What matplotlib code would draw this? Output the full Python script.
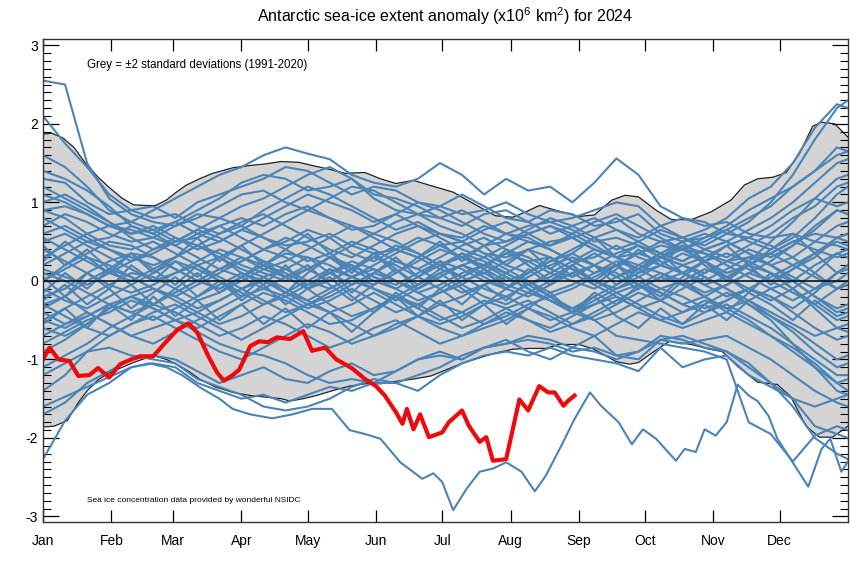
import numpy as np
import matplotlib.pyplot as plt
from matplotlib.ticker import MultipleLocator

plt.rcParams['font.family'] = ['Liberation Sans', 'DejaVu Sans']
plt.rcParams['axes.unicode_minus'] = False

# x axis: day of year
month_starts = [0, 31, 59, 90, 120, 151, 181, 212, 243, 273, 304, 334]
month_names = ['Jan', 'Feb', 'Mar', 'Apr', 'May', 'Jun',
               'Jul', 'Aug', 'Sep', 'Oct', 'Nov', 'Dec']

# days at which the past years are sampled (every 10 days + year end)
days = list(range(0, 361, 10)) + [365]

# grey band (+/- 2 std, 1991-2020)
upper_days = [0, 4, 9, 14, 19, 25, 30, 36, 41, 46, 51, 56, 60, 65, 71, 77, 86, 94,
              101, 108, 116, 122, 130, 137, 146, 153, 160, 168, 175, 186, 198, 205,
              213, 219, 225, 235, 243, 250, 258, 264, 270, 278, 285, 294, 303, 312,
              318, 324, 331, 337, 343, 349, 353, 359, 365]
upper = [1.87, 1.88, 1.82, 1.70, 1.51, 1.32, 1.19, 1.05, 0.97, 0.96, 0.96, 1.03,
         1.12, 1.22, 1.30, 1.37, 1.44, 1.47, 1.49, 1.52, 1.51, 1.47, 1.42, 1.37,
         1.38, 1.30, 1.24, 1.28, 1.22, 1.13, 0.94, 0.83, 0.81, 0.88, 0.96, 0.88,
         0.82, 0.84, 1.03, 1.09, 1.07, 0.90, 0.78, 0.78, 0.88, 1.03, 1.22, 1.30,
         1.32, 1.38, 1.62, 1.97, 2.02, 2.00, 1.83]
lower_days = [0, 5, 11, 16, 20, 25, 30, 36, 41, 46, 51, 56, 61, 66, 71, 78, 86, 94,
              101, 108, 112, 118, 124, 131, 139, 146, 153, 160, 168, 176, 183, 190,
              198, 205, 213, 220, 228, 234, 243, 249, 255, 260, 266, 270, 276, 284,
              294, 302, 308, 315, 324, 333, 339, 346, 352, 358, 365]
lower = [-1.86, -1.85, -1.78, -1.55, -1.40, -1.26, -1.17, -1.10, -1.04, -0.99,
         -0.96, -1.00, -1.07, -1.15, -1.25, -1.35, -1.42, -1.46, -1.48, -1.50,
         -1.53, -1.50, -1.46, -1.40, -1.34, -1.31, -1.31, -1.28, -1.25, -1.21,
         -1.13, -1.05, -0.98, -0.92, -0.87, -0.86, -0.86, -0.81, -0.81, -0.86,
         -0.95, -1.03, -1.06, -1.04, -0.92, -0.77, -0.81, -0.87, -0.90, -1.09,
         -1.29, -1.32, -1.47, -1.85, -1.99, -1.99, -1.85]

# past years (blue lines), sampled at `days`
past_years = [
    [0.9, 0.95, 0.85, 0.7, 0.75, 0.9, 1.05, 1.2, 1.35, 1.45,
     1.6, 1.7, 1.62, 1.55, 1.35, 1.25, 1.2, 1.3, 1.5, 1.35,
     1.1, 1.3, 1.15, 1.2, 1.0, 1.25, 1.56, 1.35, 0.95, 0.8,
     0.7, 0.75, 0.6, 0.55, 0.6, 0.5, 0.45, 0.4],
    [2.1, 1.75, 1.45, 1.1, 0.9, 0.8, 0.85, 0.7, 0.6, 0.7,
     0.55, 0.45, 0.5, 0.6, 0.45, 0.35, 0.4, 0.3, 0.45, 0.5,
     0.35, 0.3, 0.4, 0.5, 0.55, 0.4, 0.3, 0.35, 0.45, 0.4,
     0.55, 0.65, 0.8, 0.95, 1.2, 1.4, 1.6, 1.65],
    [2.55, 2.5, 1.5, 1.05, 0.85, 0.75, 0.7, 0.8, 0.95, 1.1,
     1.15, 1.0, 0.9, 1.05, 1.2, 1.15, 1.0, 0.85, 0.8, 0.9,
     0.75, 0.6, 0.7, 0.75, 0.65, 0.5, 0.55, 0.45, 0.3, 0.4,
     0.35, 0.25, 0.3, 0.35, 0.5, 0.6, 0.55, 0.6],
    [1.6, 1.45, 1.2, 0.9, 0.75, 0.65, 0.5, 0.55, 0.7, 0.8,
     0.7, 0.85, 0.95, 0.8, 0.7, 0.6, 0.75, 0.85, 0.7, 0.6,
     0.45, 0.5, 0.6, 0.7, 0.55, 0.65, 0.8, 0.6, 0.5, 0.55,
     0.45, 0.6, 0.75, 1.0, 1.35, 1.8, 2.2, 2.3],
    [1.3, 1.25, 1.0, 0.85, 0.9, 0.95, 0.8, 1.0, 1.1, 1.2,
     1.3, 1.45, 1.4, 1.25, 1.1, 1.2, 1.15, 1.0, 0.95, 0.85,
     0.9, 1.0, 0.85, 0.75, 0.8, 0.9, 1.0, 0.95, 0.7, 0.55,
     0.65, 0.8, 1.05, 1.2, 1.5, 1.95, 2.25, 2.2],
    [1.0, 1.1, 0.95, 0.75, 0.6, 0.65, 0.75, 0.9, 1.05, 1.25,
     1.35, 1.3, 1.15, 1.2, 1.3, 1.05, 0.9, 0.85, 0.95, 1.1,
     0.95, 0.8, 0.75, 0.9, 0.85, 0.7, 0.75, 0.85, 0.6, 0.5,
     0.55, 0.7, 0.9, 1.05, 1.2, 1.4, 1.7, 1.65],
    [0.7, 0.85, 0.75, 0.6, 0.5, 0.55, 0.7, 0.85, 0.8, 0.95,
     1.05, 1.2, 1.35, 1.45, 1.3, 1.1, 1.05, 0.95, 0.8, 0.7,
     0.85, 0.9, 0.75, 0.6, 0.7, 0.8, 0.65, 0.55, 0.7, 0.8,
     0.75, 0.6, 0.55, 0.7, 0.9, 1.05, 0.95, 1.0],
    [1.4, 1.3, 1.15, 0.95, 0.7, 0.6, 0.75, 0.6, 0.5, 0.65,
     0.8, 0.95, 1.1, 1.0, 0.9, 0.75, 0.85, 0.7, 0.6, 0.55,
     0.7, 0.6, 0.5, 0.45, 0.6, 0.75, 0.85, 0.7, 0.55, 0.4,
     0.5, 0.65, 0.5, 0.4, 0.55, 0.8, 1.1, 1.2],
    [0.3, 0.45, 0.6, 0.7, 0.65, 0.55, 0.45, 0.6, 0.7, 0.55,
     0.4, 0.5, 0.65, 0.55, 0.35, 0.25, 0.4, 0.55, 0.45, 0.3,
     0.2, 0.35, 0.5, 0.4, 0.25, 0.3, 0.45, 0.3, 0.2, 0.35,
     0.25, 0.1, 0.2, 0.35, 0.5, 0.4, 0.3, 0.35],
    [-0.2, -0.1, 0.1, 0.25, 0.35, 0.3, 0.15, 0.0, -0.1, 0.05,
     0.2, 0.35, 0.3, 0.1, -0.05, 0.1, 0.25, 0.15, 0.0, -0.15,
     -0.05, 0.1, 0.25, 0.3, 0.15, 0.0, -0.1, 0.05, 0.2, 0.1,
     -0.05, -0.2, -0.1, 0.05, 0.2, 0.35, 0.5, 0.45],
    [0.6, 0.7, 0.55, 0.4, 0.3, 0.2, 0.3, 0.45, 0.35, 0.2,
     0.1, 0.0, 0.15, 0.3, 0.45, 0.6, 0.5, 0.35, 0.2, 0.3,
     0.45, 0.6, 0.55, 0.4, 0.25, 0.1, 0.2, 0.35, 0.25, 0.1,
     0.0, 0.15, 0.3, 0.2, 0.05, -0.1, 0.0, 0.1],
    [-0.5, -0.35, -0.2, -0.05, 0.1, 0.05, -0.1, -0.25, -0.15, 0.0,
     0.15, 0.05, -0.1, -0.3, -0.45, -0.35, -0.2, -0.05, 0.1, 0.2,
     0.05, -0.1, -0.2, -0.05, 0.1, 0.2, 0.1, -0.05, -0.15, -0.3,
     -0.2, -0.05, 0.1, 0.0, -0.15, -0.3, -0.5, -0.45],
    [0.1, 0.0, -0.15, -0.3, -0.4, -0.3, -0.15, 0.0, 0.15, 0.3,
     0.2, 0.05, -0.1, 0.0, 0.15, 0.3, 0.45, 0.35, 0.2, 0.05,
     -0.1, -0.2, -0.05, 0.1, 0.25, 0.4, 0.3, 0.15, 0.3, 0.45,
     0.35, 0.2, 0.05, -0.1, -0.25, -0.1, 0.1, 0.2],
    [0.9, 0.8, 0.6, 0.45, 0.4, 0.5, 0.35, 0.2, 0.3, 0.45,
     0.6, 0.75, 0.9, 0.8, 0.65, 0.7, 0.85, 1.0, 0.9, 0.75,
     0.6, 0.5, 0.65, 0.8, 0.7, 0.55, 0.4, 0.5, 0.65, 0.55,
     0.4, 0.3, 0.45, 0.6, 0.8, 0.95, 1.2, 1.25],
    [-0.8, -0.65, -0.5, -0.4, -0.25, -0.35, -0.5, -0.6, -0.45, -0.3,
     -0.15, -0.25, -0.4, -0.55, -0.5, -0.35, -0.2, -0.3, -0.45, -0.6,
     -0.5, -0.35, -0.25, -0.4, -0.55, -0.45, -0.3, -0.15, -0.25, -0.4,
     -0.3, -0.15, -0.3, -0.45, -0.6, -0.8, -1.0, -0.95],
    [0.4, 0.25, 0.1, -0.05, -0.15, -0.05, 0.1, 0.2, 0.05, -0.1,
     -0.25, -0.4, -0.3, -0.15, 0.0, -0.1, -0.25, -0.1, 0.05, 0.2,
     0.3, 0.15, 0.0, -0.15, -0.05, 0.1, 0.25, 0.15, 0.0, 0.1,
     0.25, 0.35, 0.25, 0.1, 0.0, -0.2, -0.35, -0.3],
    [-0.3, -0.45, -0.6, -0.7, -0.55, -0.4, -0.3, -0.45, -0.6, -0.75,
     -0.6, -0.45, -0.3, -0.4, -0.55, -0.7, -0.6, -0.45, -0.3, -0.4,
     -0.55, -0.45, -0.3, -0.2, -0.35, -0.5, -0.4, -0.25, -0.1, -0.2,
     -0.35, -0.25, -0.1, -0.2, -0.4, -0.6, -0.75, -0.7],
    [0.0, 0.15, 0.3, 0.2, 0.05, -0.1, -0.2, -0.05, 0.1, 0.25,
     0.4, 0.55, 0.45, 0.3, 0.15, 0.0, -0.1, 0.05, 0.2, 0.35,
     0.25, 0.1, -0.05, -0.2, -0.1, 0.05, 0.2, 0.35, 0.5, 0.4,
     0.25, 0.1, 0.2, 0.35, 0.2, 0.05, -0.1, 0.0],
    [1.1, 1.0, 0.85, 0.7, 0.6, 0.7, 0.55, 0.4, 0.5, 0.65,
     0.55, 0.4, 0.25, 0.35, 0.5, 0.4, 0.25, 0.15, 0.3, 0.45,
     0.55, 0.4, 0.3, 0.15, 0.05, 0.2, 0.35, 0.45, 0.3, 0.2,
     0.1, 0.25, 0.4, 0.3, 0.45, 0.65, 0.9, 0.85],
    [-1.1, -0.95, -0.8, -0.6, -0.45, -0.3, -0.4, -0.55, -0.7, -0.6,
     -0.45, -0.55, -0.7, -0.85, -0.75, -0.6, -0.5, -0.65, -0.8, -0.7,
     -0.55, -0.4, -0.5, -0.6, -0.45, -0.3, -0.2, -0.35, -0.5, -0.4,
     -0.25, -0.35, -0.5, -0.7, -0.9, -1.1, -1.3, -1.25],
    [0.5, 0.6, 0.45, 0.3, 0.15, 0.0, 0.1, 0.25, 0.4, 0.3,
     0.15, 0.25, 0.4, 0.55, 0.7, 0.55, 0.4, 0.3, 0.15, 0.05,
     0.2, 0.35, 0.25, 0.1, 0.0, -0.1, 0.05, 0.2, 0.1, -0.05,
     0.1, 0.25, 0.15, 0.0, 0.15, 0.3, 0.55, 0.6],
    [-0.6, -0.7, -0.55, -0.35, -0.2, -0.1, -0.2, -0.35, -0.25, -0.1,
     0.0, -0.15, -0.3, -0.2, -0.05, 0.1, 0.0, -0.15, -0.3, -0.2,
     -0.05, 0.05, -0.1, -0.25, -0.4, -0.3, -0.15, -0.3, -0.45, -0.55,
     -0.4, -0.25, -0.1, -0.2, -0.35, -0.15, 0.1, 0.15],
    [0.2, 0.35, 0.5, 0.4, 0.25, 0.35, 0.5, 0.65, 0.55, 0.4,
     0.25, 0.15, 0.0, -0.1, 0.05, 0.2, 0.35, 0.5, 0.6, 0.5,
     0.35, 0.2, 0.1, 0.25, 0.4, 0.55, 0.65, 0.5, 0.35, 0.25,
     0.4, 0.5, 0.35, 0.2, 0.0, -0.2, -0.4, -0.35],
    [-0.1, -0.25, -0.35, -0.2, -0.05, 0.1, 0.25, 0.15, 0.0, -0.15,
     -0.3, -0.2, -0.05, 0.1, 0.2, 0.05, -0.1, -0.25, -0.15, 0.0,
     0.1, 0.25, 0.4, 0.3, 0.15, 0.0, -0.15, -0.05, 0.1, 0.0,
     -0.15, -0.05, 0.1, 0.25, 0.45, 0.7, 0.9, 0.85],
    [-1.4, -1.2, -0.9, -0.7, -0.55, -0.45, -0.6, -0.75, -0.9, -1.0,
     -0.85, -0.7, -0.55, -0.65, -0.8, -0.7, -0.55, -0.45, -0.6, -0.7,
     -0.6, -0.5, -0.35, -0.45, -0.6, -0.7, -0.55, -0.4, -0.5, -0.6,
     -0.5, -0.4, -0.55, -0.7, -0.85, -1.05, -1.3, -1.4],
    [0.8, 0.65, 0.5, 0.55, 0.7, 0.6, 0.45, 0.3, 0.15, 0.25,
     0.4, 0.3, 0.15, 0.0, 0.15, 0.3, 0.2, 0.05, -0.1, 0.05,
     0.2, 0.1, -0.05, 0.05, 0.2, 0.35, 0.2, 0.05, -0.1, 0.0,
     0.15, 0.05, -0.1, -0.25, -0.1, 0.1, 0.35, 0.4],
    [-0.35, -0.2, 0.0, 0.15, 0.05, -0.1, -0.25, -0.4, -0.55, -0.45,
     -0.3, -0.15, 0.0, 0.15, 0.05, -0.1, -0.2, -0.35, -0.5, -0.4,
     -0.25, -0.35, -0.5, -0.65, -0.55, -0.4, -0.25, -0.1, 0.05, -0.05,
     -0.2, -0.35, -0.25, -0.1, 0.0, 0.2, 0.35, 0.3],
    [0.15, 0.05, -0.05, 0.1, 0.25, 0.4, 0.55, 0.45, 0.3, 0.15,
     0.05, 0.15, 0.3, 0.2, 0.05, -0.05, 0.1, 0.25, 0.4, 0.3,
     0.15, 0.0, 0.1, 0.25, 0.35, 0.2, 0.05, -0.1, 0.05, 0.2,
     0.3, 0.45, 0.55, 0.45, 0.3, 0.1, -0.1, -0.05],
    [-0.9, -0.75, -0.55, -0.35, -0.2, -0.3, -0.15, 0.0, 0.15, 0.05,
     -0.1, -0.2, -0.35, -0.25, -0.1, -0.25, -0.4, -0.3, -0.15, -0.05,
     -0.2, -0.3, -0.15, 0.0, 0.1, -0.05, -0.2, -0.35, -0.25, -0.1,
     0.05, -0.1, -0.25, -0.4, -0.55, -0.7, -0.6, -0.55],
    [0.55, 0.4, 0.25, 0.1, 0.0, 0.15, 0.3, 0.45, 0.6, 0.75,
     0.85, 0.7, 0.55, 0.4, 0.3, 0.45, 0.6, 0.7, 0.55, 0.4,
     0.3, 0.45, 0.6, 0.7, 0.6, 0.45, 0.3, 0.2, 0.35, 0.5,
     0.6, 0.5, 0.35, 0.2, 0.3, 0.5, 0.7, 0.75],
    [-0.4, -0.55, -0.45, -0.3, -0.4, -0.5, -0.35, -0.2, -0.05, 0.1,
     0.0, -0.15, -0.25, -0.1, 0.05, 0.15, 0.0, -0.15, -0.05, 0.1,
     0.2, 0.05, -0.1, -0.25, -0.35, -0.2, -0.05, 0.1, 0.2, 0.1,
     -0.05, 0.05, 0.2, 0.1, -0.1, -0.35, -0.6, -0.65],
    [1.2, 1.05, 0.9, 0.75, 0.55, 0.4, 0.5, 0.65, 0.8, 0.7,
     0.9, 1.05, 1.2, 1.1, 0.95, 0.8, 0.65, 0.75, 0.6, 0.5,
     0.65, 0.75, 0.6, 0.45, 0.55, 0.4, 0.3, 0.45, 0.35, 0.25,
     0.4, 0.5, 0.65, 0.8, 1.0, 1.25, 1.5, 1.55],
    [0.05, -0.2, 0.1, -0.1, 0.2, 0.0, 0.25, 0.05, 0.3, 0.1,
     -0.05, 0.2, -0.1, 0.15, -0.15, 0.1, 0.3, 0.05, 0.25, -0.05,
     0.15, -0.1, 0.1, 0.3, 0.05, 0.2, -0.05, 0.15, 0.35, 0.1,
     0.25, 0.0, 0.2, -0.05, 0.15, 0.35, 0.1, 0.2],
    [-0.25, -0.05, -0.3, -0.1, -0.35, -0.15, 0.05, -0.2, 0.0, -0.25,
     -0.05, -0.3, -0.1, 0.05, -0.2, -0.4, -0.15, -0.35, -0.1, -0.3,
     -0.05, -0.25, 0.0, -0.2, -0.4, -0.15, -0.3, -0.05, -0.25, 0.0,
     -0.2, -0.4, -0.15, -0.3, -0.5, -0.25, -0.45, -0.4],
    [0.45, 0.2, 0.4, 0.15, 0.35, 0.1, 0.3, 0.55, 0.25, 0.45,
     0.2, 0.4, 0.6, 0.35, 0.15, 0.35, 0.1, 0.3, 0.5, 0.25,
     0.45, 0.2, 0.4, 0.15, 0.35, 0.55, 0.3, 0.1, 0.3, 0.5,
     0.25, 0.45, 0.2, 0.4, 0.6, 0.35, 0.55, 0.5],
    [-0.55, -0.35, -0.6, -0.3, -0.5, -0.2, -0.45, -0.25, -0.5, -0.3,
     -0.55, -0.35, -0.6, -0.4, -0.65, -0.4, -0.2, -0.45, -0.25, -0.5,
     -0.3, -0.55, -0.35, -0.15, -0.4, -0.2, -0.45, -0.6, -0.35, -0.55,
     -0.3, -0.5, -0.25, -0.45, -0.65, -0.9, -1.1, -1.05],
    [0.25, 0.5, 0.3, 0.1, 0.35, 0.15, -0.05, 0.2, 0.0, -0.2,
     0.05, -0.15, 0.1, 0.3, 0.1, 0.35, 0.15, -0.05, 0.15, 0.35,
     0.15, 0.4, 0.2, 0.0, 0.2, -0.05, 0.15, 0.4, 0.2, 0.45,
     0.2, 0.0, 0.25, 0.5, 0.75, 1.05, 1.3, 1.35],
    [-0.15, 0.1, -0.1, 0.15, -0.05, -0.3, -0.1, 0.1, -0.15, 0.05,
     0.25, 0.05, 0.2, -0.05, -0.25, -0.05, 0.15, -0.1, 0.1, -0.1,
     -0.3, -0.1, 0.15, -0.05, 0.2, 0.0, 0.2, -0.05, -0.2, 0.05,
     0.25, 0.05, -0.15, 0.1, -0.1, -0.3, -0.1, -0.05],
    [-2.27, -1.78, -1.45, -1.3, -1.1, -1.05, -1.1, -1.3, -1.4, -1.5,
     -1.45, -1.55, -1.45, -1.35, -1.4, -1.3, -1.3, -1.4, -1.2, -1.05,
     -0.95, -0.9, -0.95, -0.85, -0.95, -1.0, -1.05, -1.15, -0.85, -1.1,
     -1.0, -0.95, -1.2, -1.35, -1.5, -1.6, -1.5, -1.45],
    [-1.7, -1.55, -1.3, -1.15, -1.0, -0.95, -1.0, -1.15, -1.3, -1.2,
     -1.1, -1.25, -1.3, -1.15, -1.05, -1.2, -1.15, -1.0, -0.9, -1.0,
     -0.85, -0.75, -0.9, -1.0, -0.85, -0.7, -0.95, -1.0, -0.75, -0.7,
     -0.8, -0.9, -1.1, -1.3, -1.5, -1.85, -1.95, -2.0],
    [-0.3, -0.2, -0.4, -0.55, -0.7, -0.6, -0.5, -0.65, -0.8, -0.9,
     -0.95, -1.05, -1.2, -1.3, -1.25, -1.3, -1.15, -1.0, -0.95, -1.0,
     -0.85, -0.8, -0.75, -0.8, -0.9, -0.85, -0.95, -0.9, -0.7, -0.75,
     -0.85, -0.9, -1.05, -1.3, -1.6, -2.0, -2.2, -2.27],
    [-1.2, -1.05, -0.9, -0.85, -0.95, -1.0, -1.05, -1.25, -1.35, -1.45,
     -1.6, -1.65, -1.6, -1.5, -1.35, -1.25, -1.3, -1.2, -1.1, -0.95,
     -0.85, -0.8, -0.7, -0.75, -0.85, -0.9, -1.0, -0.9, -0.75, -0.8,
     -0.75, -0.7, -0.85, -1.0, -1.2, -1.4, -1.55, -1.6],
    [0.0, 0.2, 0.35, 0.5, 0.45, 0.3, 0.15, 0.0, -0.1, 0.05,
     0.2, 0.1, -0.05, 0.1, 0.25, 0.15, 0.0, -0.1, 0.05, 0.2,
     0.1, -0.05, -0.15, -0.25, -0.4, -0.5, -0.7, -0.75, -0.8, -0.85,
     -0.9, -1.0, -1.8, -1.95, -2.3, -1.97, -1.85, -1.9],
    [-0.5, -0.6, -0.45, -0.3, -0.2, -0.35, -0.5, -0.4, -0.25, -0.1,
     0.05, -0.1, -0.25, -0.4, -0.3, -0.15, -0.3, -0.45, -0.55, -0.45,
     -0.3, -0.2, -0.35, -0.5, -0.4, -0.25, -0.1, 0.0, -0.15, -0.3,
     -0.4, -0.3, -0.45, -0.6, -0.8, -1.0, -1.2, -1.2],
    [-0.7, -0.55, -0.4, -0.55, -0.7, -0.8, -0.65, -0.5, -0.35, -0.2,
     -0.1, 0.05, 0.15, 0.3, 0.2, 0.05, -0.05, 0.1, 0.25, 0.15,
     0.0, -0.1, 0.05, 0.2, 0.3, 0.2, 0.05, 0.15, 0.3, 0.2,
     0.05, -0.1, -0.3, -0.5, -0.8, -1.1, -1.4, -1.45],
]

# 2023 (record low year), finer sampling
y2023_days = [0, 8, 16, 24, 32, 40, 48, 56, 63, 72, 80, 86, 94, 104, 113, 122, 131,
              139, 146, 153, 162, 172, 177, 181, 186, 192, 198, 204, 210, 217, 223,
              228, 235, 241, 248, 253, 261, 267, 272, 278, 287, 291, 296, 300, 305,
              310, 315, 320, 324, 329, 333, 339, 347, 353, 357, 362, 365]
y2023 = [-1.6, -1.5, -1.4, -1.3, -1.2, -1.1, -1.05, -1.1, -1.2, -1.37, -1.5, -1.63,
         -1.7, -1.75, -1.7, -1.63, -1.63, -1.9, -1.95, -2.01, -2.31, -2.52, -2.45,
         -2.56, -2.92, -2.65, -2.43, -2.39, -2.31, -2.43, -2.68, -2.48, -2.1, -1.76,
         -1.42, -1.59, -1.80, -2.08, -1.89, -2.01, -2.29, -2.14, -2.18, -1.89, -1.97,
         -1.80, -1.32, -1.46, -1.53, -1.72, -2.01, -2.27, -2.62, -2.14, -2.01, -2.43,
         -2.3]

# 2024 (red)
y2024_days = [0, 3, 7, 12, 16, 21, 25, 30, 35, 40, 44, 50, 56, 61, 66, 70, 75, 79,
              82, 86, 89, 94, 98, 102, 106, 112, 118, 122, 128, 133, 140, 146, 151,
              155, 160, 163, 165, 168, 171, 175, 181, 184, 190, 193, 198, 201, 204,
              210, 213, 216, 220, 225, 229, 232, 236, 238, 241]
y2024 = [-1.0, -0.85, -1.0, -1.02, -1.21, -1.2, -1.11, -1.23, -1.06, -1.0, -0.96,
         -0.96, -0.77, -0.62, -0.54, -0.66, -0.96, -1.17, -1.27, -1.2, -1.13, -0.83,
         -0.77, -0.78, -0.72, -0.74, -0.64, -0.89, -0.85, -1.0, -1.11, -1.25, -1.34,
         -1.46, -1.67, -1.82, -1.63, -1.89, -1.70, -1.99, -1.93, -1.80, -1.65, -1.84,
         -2.05, -1.99, -2.29, -2.27, -1.89, -1.51, -1.65, -1.34, -1.42, -1.42, -1.59,
         -1.53, -1.46]

blue = '#4a84b6'

fig = plt.figure(figsize=(8.65, 5.62), dpi=100)
ax = fig.add_axes([0.0497, 0.0712, 0.9306, 0.8594])

# grey band
poly_x = np.concatenate([upper_days, lower_days[::-1]])
poly_y = np.concatenate([upper, lower[::-1]])
ax.fill(poly_x, poly_y, color='#d4d4d4', lw=0, zorder=1)
ax.plot(upper_days, upper, color='#222222', lw=0.9, zorder=2)
ax.plot(lower_days, lower, color='#222222', lw=0.9, zorder=2)

for yr in past_years:
    ax.plot(days, yr, color=blue, lw=1.5, zorder=3)
ax.plot(y2023_days, y2023, color=blue, lw=1.5, zorder=3)

ax.axhline(0, color='#111111', lw=1.2, zorder=4)
ax.plot(y2024_days, y2024, color='#ee0a0a', lw=3, zorder=5)

ax.set_xlim(0, 365)
ax.set_ylim(-3.07, 3.08)
ax.set_xticks(month_starts)
ax.set_xticklabels(month_names, fontsize=10)
ax.set_yticks([-3, -2, -1, 0, 1, 2, 3])
ax.set_yticklabels(['-3', '-2', '-1', '0', '1', '2', '3'], fontsize=10)
ax.yaxis.set_minor_locator(MultipleLocator(0.1))

ax.tick_params(axis='x', which='major', direction='in', length=8.5, width=0.9,
               top=True, bottom=True, pad=9)
ax.tick_params(axis='y', which='major', direction='in', length=11.5, width=0.9,
               left=True, right=True, pad=3.5)
ax.tick_params(axis='y', which='minor', direction='in', length=5.5, width=0.8,
               left=True, right=True)
for sp in ax.spines.values():
    sp.set_linewidth(1.0)
    sp.set_color('#333333')
    sp.set_zorder(6)

ax.set_title('Antarctic sea-ice extent anomaly (x10$^\\mathregular{6}$ km$^\\mathregular{2}$) for 2024',
             fontsize=11.5, pad=12)
ax.text(0.0547, 0.946, 'Grey = \u00b12 standard deviations (1991-2020)',
        transform=ax.transAxes, fontsize=8.3, va='center', zorder=7)
ax.text(0.0547, 0.0455, 'Sea ice concentration data provided by wonderful NSIDC',
        transform=ax.transAxes, fontsize=6, va='center', zorder=7)

fig.savefig('out.png', dpi=100)
